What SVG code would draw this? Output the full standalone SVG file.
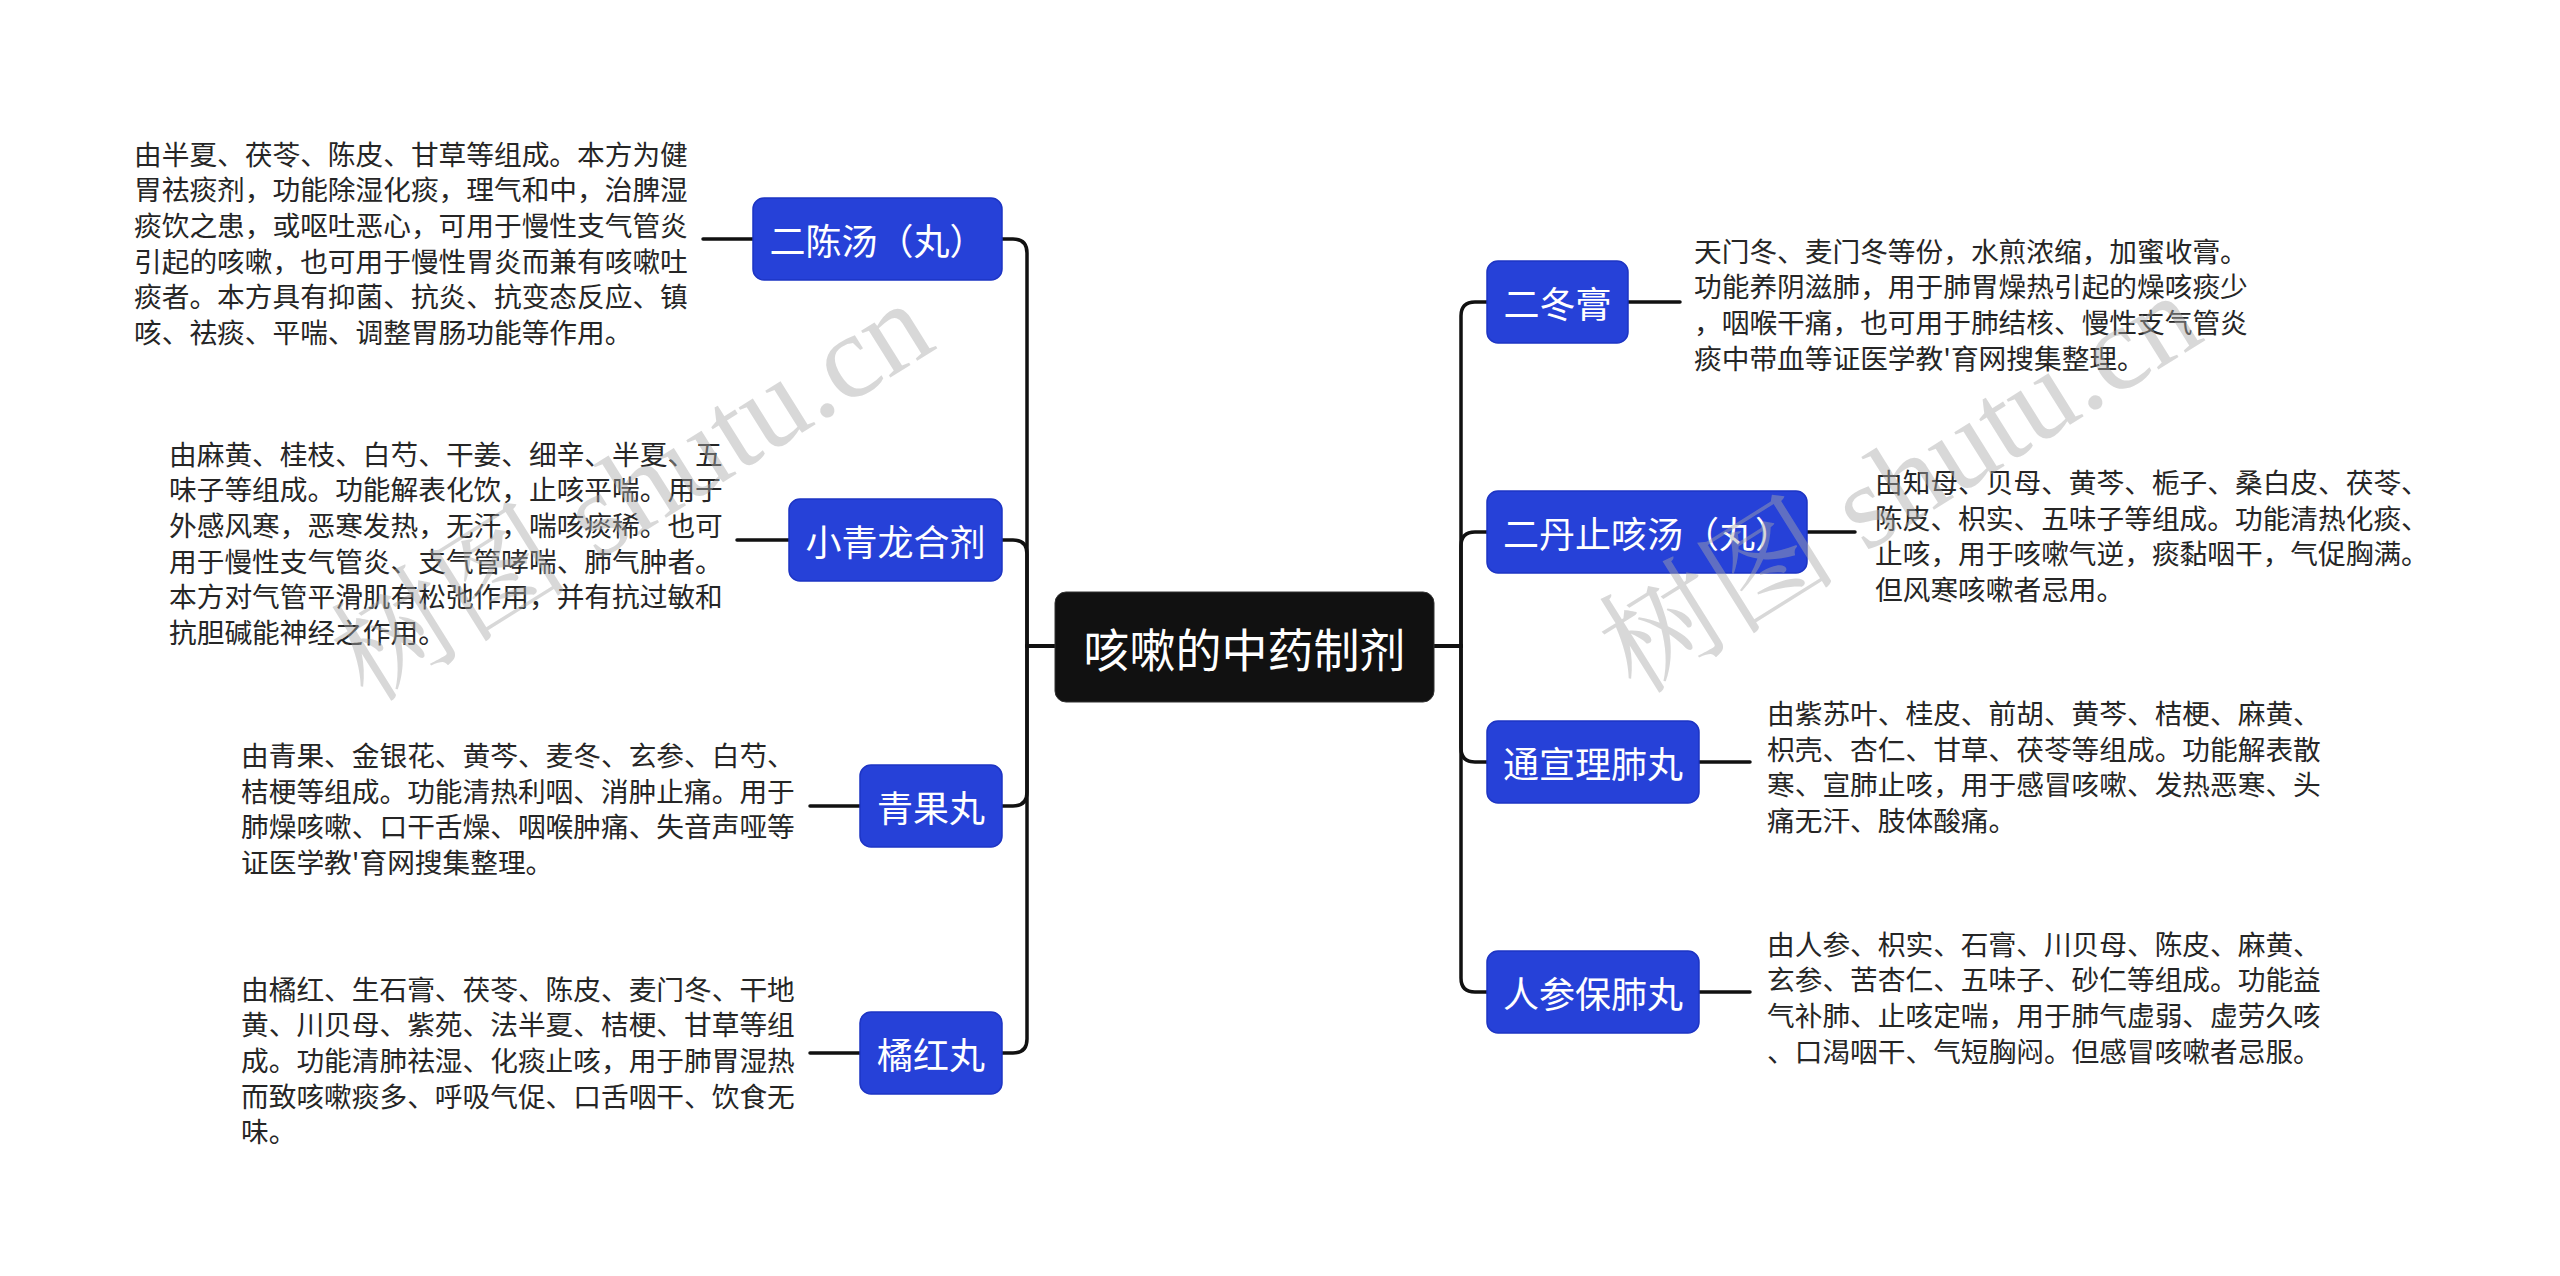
<svg xmlns="http://www.w3.org/2000/svg" width="2560" height="1276" viewBox="0 0 2560 1276">
<style>
.bg{fill:#ffffff}
.node rect{fill:#2641d8;stroke:#1d34c4;stroke-width:1.5}
.node text{fill:#ffffff;font-family:"Noto Sans CJK SC","Noto Sans",sans-serif;font-size:36px;text-anchor:middle;dominant-baseline:central}
.root rect{fill:#111111;stroke:#333;stroke-width:1}
.root text{fill:#ffffff;font-family:"Noto Sans CJK SC","Noto Sans",sans-serif;font-size:46px;text-anchor:middle;dominant-baseline:central}
.conn path{fill:none;stroke:#111111;stroke-width:3.5;stroke-linecap:round}
.desc{fill:#262626;font-family:"Noto Sans CJK SC","Noto Sans",sans-serif;font-size:27.7px;dominant-baseline:central}
.wm{fill:#a8a8a8;fill-opacity:0.45;font-family:"Liberation Serif","Noto Serif CJK SC","Noto Sans CJK SC",serif;font-size:120px}
</style>
<rect class="bg" x="0" y="0" width="2560" height="1276"/>
<g id="connectors" class="conn">
<path d="M1055,646 H1027 V253 Q1027,239 1013,239 H1002"/>
<path d="M1055,646 H1027 V554 Q1027,540 1013,540 H1002"/>
<path d="M1055,646 H1027 V792 Q1027,806 1013,806 H1002"/>
<path d="M1055,646 H1027 V1039 Q1027,1053 1013,1053 H1002"/>
<path d="M1434,646 H1461 V316 Q1461,302 1475,302 H1487"/>
<path d="M1434,646 H1461 V546 Q1461,532 1475,532 H1487"/>
<path d="M1434,646 H1461 V748 Q1461,762 1475,762 H1487"/>
<path d="M1434,646 H1461 V978 Q1461,992 1475,992 H1487"/>
<path d="M753,239 H703"/>
<path d="M789,540 H737"/>
<path d="M860,806 H810"/>
<path d="M860,1053 H810"/>
<path d="M1628,302 H1680"/>
<path d="M1807,532 H1855"/>
<path d="M1699,762 H1750"/>
<path d="M1699,992 H1750"/>
</g>
<g id="root" class="root">
<rect x="1055" y="592" width="379" height="110" rx="11"/>
<text x="1244.5" y="647">咳嗽的中药制剂</text>
</g>
<g id="n-erchen" class="node">
<rect x="753" y="198" width="249" height="82" rx="11"/>
<text x="877.5" y="239">二陈汤（丸）</text>
</g>
<g id="n-xiaoqinglong" class="node">
<rect x="789" y="499" width="213" height="82" rx="11"/>
<text x="895.5" y="540">小青龙合剂</text>
</g>
<g id="n-qingguo" class="node">
<rect x="860" y="765" width="142" height="82" rx="11"/>
<text x="931" y="806">青果丸</text>
</g>
<g id="n-juhong" class="node">
<rect x="860" y="1012" width="142" height="82" rx="11"/>
<text x="931" y="1053">橘红丸</text>
</g>
<g id="n-erdong" class="node">
<rect x="1487" y="261" width="141" height="82" rx="11"/>
<text x="1557.5" y="302">二冬膏</text>
</g>
<g id="n-erdan" class="node">
<rect x="1487" y="491" width="320" height="82" rx="11"/>
<text x="1647" y="532">二丹止咳汤（丸）</text>
</g>
<g id="n-tongxuan" class="node">
<rect x="1487" y="721" width="212" height="82" rx="11"/>
<text x="1593" y="762">通宣理肺丸</text>
</g>
<g id="n-renshen" class="node">
<rect x="1487" y="951" width="212" height="82" rx="11"/>
<text x="1593" y="992">人参保肺丸</text>
</g>
<g id="d-erchen">
<text class="desc" x="134" y="152.5"><tspan x="134">由半夏、茯苓、陈皮、甘草等组成。本方为健</tspan><tspan x="134" dy="35.7">胃祛痰剂，功能除湿化痰，理气和中，治脾湿</tspan><tspan x="134" dy="35.7">痰饮之患，或呕吐恶心，可用于慢性支气管炎</tspan><tspan x="134" dy="35.7">引起的咳嗽，也可用于慢性胃炎而兼有咳嗽吐</tspan><tspan x="134" dy="35.7">痰者。本方具有抑菌、抗炎、抗变态反应、镇</tspan><tspan x="134" dy="35.7">咳、祛痰、平喘、调整胃肠功能等作用。</tspan></text>
</g>
<g id="d-xiaoqinglong">
<text class="desc" x="169" y="452.5"><tspan x="169">由麻黄、桂枝、白芍、干姜、细辛、半夏、五</tspan><tspan x="169" dy="35.7">味子等组成。功能解表化饮，止咳平喘。用于</tspan><tspan x="169" dy="35.7">外感风寒，恶寒发热，无汗，喘咳痰稀。也可</tspan><tspan x="169" dy="35.7">用于慢性支气管炎、支气管哮喘、肺气肿者。</tspan><tspan x="169" dy="35.7">本方对气管平滑肌有松弛作用，并有抗过敏和</tspan><tspan x="169" dy="35.7">抗胆碱能神经之作用。</tspan></text>
</g>
<g id="d-qingguo">
<text class="desc" x="241" y="754"><tspan x="241">由青果、金银花、黄芩、麦冬、玄参、白芍、</tspan><tspan x="241" dy="35.7">桔梗等组成。功能清热利咽、消肿止痛。用于</tspan><tspan x="241" dy="35.7">肺燥咳嗽、口干舌燥、咽喉肿痛、失音声哑等</tspan><tspan x="241" dy="35.7">证医学教'育网搜集整理。</tspan></text>
</g>
<g id="d-juhong">
<text class="desc" x="241" y="987.5"><tspan x="241">由橘红、生石膏、茯苓、陈皮、麦门冬、干地</tspan><tspan x="241" dy="35.7">黄、川贝母、紫苑、法半夏、桔梗、甘草等组</tspan><tspan x="241" dy="35.7">成。功能清肺祛湿、化痰止咳，用于肺胃湿热</tspan><tspan x="241" dy="35.7">而致咳嗽痰多、呼吸气促、口舌咽干、饮食无</tspan><tspan x="241" dy="35.7">味。</tspan></text>
</g>
<g id="d-erdong">
<text class="desc" x="1694" y="249.5"><tspan x="1694">天门冬、麦门冬等份，水煎浓缩，加蜜收膏。</tspan><tspan x="1694" dy="35.7">功能养阴滋肺，用于肺胃燥热引起的燥咳痰少</tspan><tspan x="1694" dy="35.7">，咽喉干痛，也可用于肺结核、慢性支气管炎</tspan><tspan x="1694" dy="35.7">痰中带血等证医学教'育网搜集整理。</tspan></text>
</g>
<g id="d-erdan">
<text class="desc" x="1875" y="481"><tspan x="1875">由知母、贝母、黄芩、栀子、桑白皮、茯苓、</tspan><tspan x="1875" dy="35.7">陈皮、枳实、五味子等组成。功能清热化痰、</tspan><tspan x="1875" dy="35.7">止咳，用于咳嗽气逆，痰黏咽干，气促胸满。</tspan><tspan x="1875" dy="35.7">但风寒咳嗽者忌用。</tspan></text>
</g>
<g id="d-tongxuan">
<text class="desc" x="1767" y="712"><tspan x="1767">由紫苏叶、桂皮、前胡、黄芩、桔梗、麻黄、</tspan><tspan x="1767" dy="35.7">枳壳、杏仁、甘草、茯苓等组成。功能解表散</tspan><tspan x="1767" dy="35.7">寒、宣肺止咳，用于感冒咳嗽、发热恶寒、头</tspan><tspan x="1767" dy="35.7">痛无汗、肢体酸痛。</tspan></text>
</g>
<g id="d-renshen">
<text class="desc" x="1767" y="942.5"><tspan x="1767">由人参、枳实、石膏、川贝母、陈皮、麻黄、</tspan><tspan x="1767" dy="35.7">玄参、苦杏仁、五味子、砂仁等组成。功能益</tspan><tspan x="1767" dy="35.7">气补肺、止咳定喘，用于肺气虚弱、虚劳久咳</tspan><tspan x="1767" dy="35.7">、口渴咽干、气短胸闷。但感冒咳嗽者忌服。</tspan></text>
</g>
<g id="watermark">
<text class="wm" transform="translate(368,704) rotate(-32)">树图 shutu.cn</text>
<text class="wm" transform="translate(1636,696) rotate(-32)">树图 shutu.cn</text>
</g>
</svg>
